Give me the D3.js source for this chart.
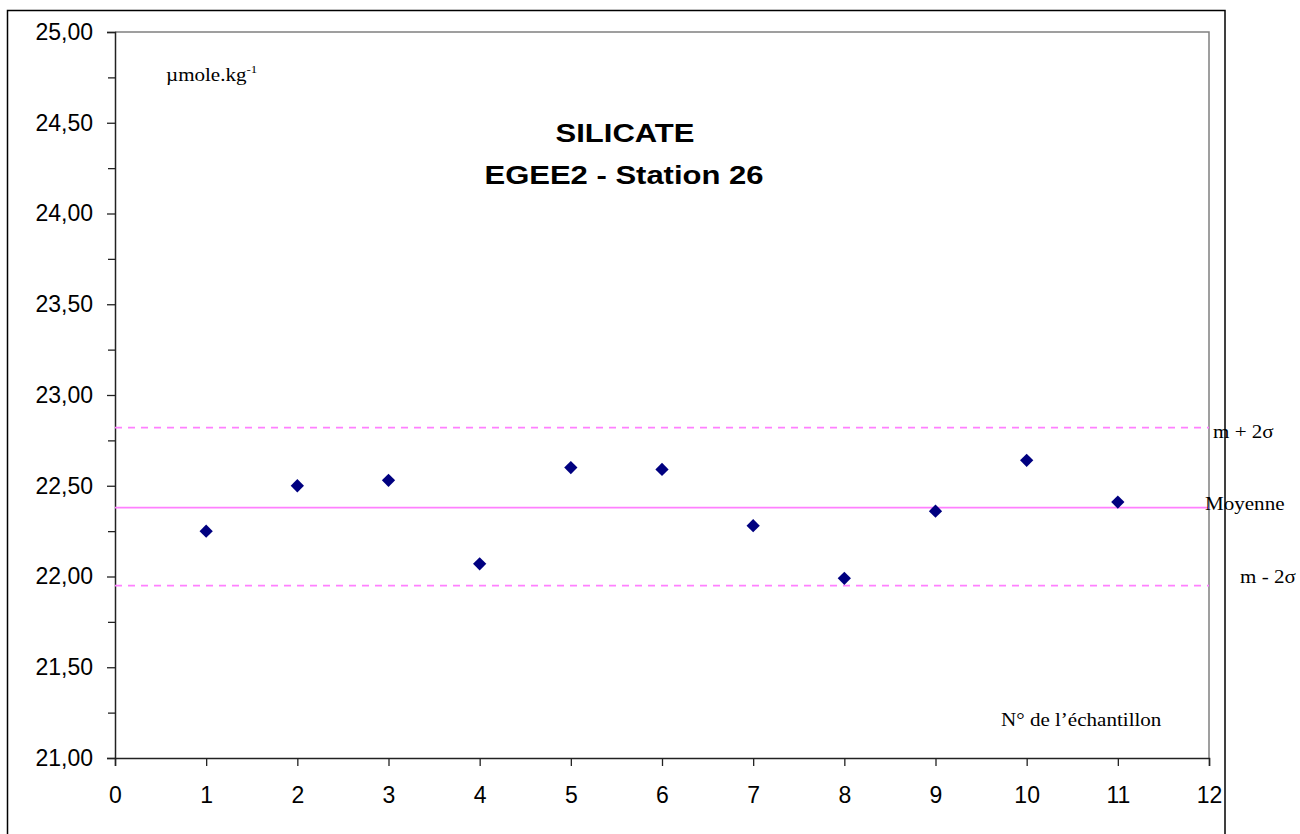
<!DOCTYPE html>
<html>
<head>
<meta charset="utf-8">
<script src="https://cdn.jsdelivr.net/npm/d3@7"></script>
<style>
  body { margin: 0; background: #fff; }
  svg text { font-family: Arial, "Liberation Sans", sans-serif; }
  .serif { font-family: "Times New Roman", "Liberation Serif", serif; }
</style>
</head>
<body>
<div id="chart"></div>
<script>
// data
var samples = [1, 2, 3, 4, 5, 6, 7, 8, 9, 10, 11];
var silicate = [22.25, 22.50, 22.53, 22.07, 22.60, 22.59, 22.28, 21.99, 22.36, 22.64, 22.41];
var moyenne = 22.38;
var upper = 22.82;   // m + 2 sigma
var lower = 21.95;   // m - 2 sigma
var yTicks = [21, 21.5, 22, 22.5, 23, 23.5, 24, 24.5, 25];
var yMinor = [21.25, 21.75, 22.25, 22.75, 23.25, 23.75, 24.25, 24.75];
var xTicks = [0, 1, 2, 3, 4, 5, 6, 7, 8, 9, 10, 11, 12];

var W = 1300, H = 834;
var plot = { left: 115, top: 32, right: 1209, bottom: 758 };
var stretch = 1.17; // text in the original is a bit wide

var svg = d3.select('#chart')
    .append('svg')
    .attr('width', W)
    .attr('height', H);

// outer chart frame
svg.append('rect')
    .attr('x', 7.5).attr('y', 10.5)
    .attr('width', 1225 - 7.5).attr('height', H + 20)
    .attr('fill', 'none')
    .attr('stroke', '#000')
    .attr('stroke-width', 1.5);

var x = d3.scaleLinear().domain([0, 12]).range([plot.left, plot.right]);
var y = d3.scaleLinear().domain([21, 25]).range([plot.bottom, plot.top]);

// plot area border (top + right in grey)
svg.append('path')
    .attr('d', `M${plot.left},${plot.top}H${plot.right}V${plot.bottom}`)
    .attr('fill', 'none')
    .attr('stroke', '#808080')
    .attr('stroke-width', 1.5);

var fmt = function (d) { return d3.format('.2f')(d).replace('.', ','); };

// y axis
svg.append('g')
    .attr('transform', `translate(${plot.left},0)`)
    .call(d3.axisLeft(y).tickValues(yTicks).tickFormat(fmt).tickSize(8).tickPadding(14));

svg.append('g')
    .attr('transform', `translate(${plot.left},0)`)
    .call(d3.axisLeft(y).tickValues(yMinor).tickFormat('').tickSize(7))
    .select('.domain').remove();

// x axis
svg.append('g')
    .attr('transform', `translate(0,${plot.bottom})`)
    .call(d3.axisBottom(x).tickValues(xTicks).tickFormat(d3.format('d')).tickSize(8).tickPadding(21));

svg.selectAll('.domain').attr('stroke', '#222').attr('stroke-width', 1.5);
svg.selectAll('.tick line').attr('stroke', '#222').attr('stroke-width', 1.3);
svg.selectAll('.tick text')
    .attr('font-size', 23)
    .attr('font-family', 'Arial, "Liberation Sans", sans-serif')
    .attr('fill', '#000');

// mean and +/- 2 sigma lines
svg.append('line')
    .attr('x1', plot.left).attr('x2', plot.right)
    .attr('y1', y(moyenne)).attr('y2', y(moyenne))
    .attr('stroke', '#ff80ff').attr('stroke-width', 1.8);

[upper, lower].forEach(function (v) {
    svg.append('line')
        .attr('x1', plot.left).attr('x2', plot.right)
        .attr('y1', y(v)).attr('y2', y(v))
        .attr('stroke', '#ff80ff').attr('stroke-width', 1.8)
        .attr('stroke-dasharray', '7,6');
});

// points
var diamond = d3.symbol().type(d3.symbolSquare).size(88);
svg.append('g').selectAll('path')
    .data(samples)
    .enter()
    .append('path')
    .attr('d', diamond)
    .attr('transform', function (d, i) {
        return `translate(${x(d)},${y(silicate[i])}) rotate(45)`;
    })
    .attr('fill', '#000080');

// helper for the wide text
function label(px, py, txt, size, cls) {
    return svg.append('text')
        .attr('class', cls || null)
        .attr('transform', `translate(${px},${py}) scale(${stretch},1)`)
        .attr('font-size', size)
        .text(txt);
}

// titles
label(625, 142, 'SILICATE', 26.5)
    .attr('text-anchor', 'middle').attr('font-weight', 'bold');
label(624, 184, 'EGEE2 - Station 26', 26.5)
    .attr('text-anchor', 'middle').attr('font-weight', 'bold');

// unit label
var unit = label(166, 81, '', 18, 'serif');
unit.append('tspan').text('\u00b5mole.kg');
unit.append('tspan').attr('font-size', 11).attr('dy', -8).text('-1');

label(1001, 726, 'N\u00b0 de l\u2019\u00e9chantillon', 18, 'serif');

// line labels
label(1213, 438, 'm + 2\u03c3', 18, 'serif');
label(1205, 510, 'Moyenne', 18, 'serif');
label(1240, 583, 'm - 2\u03c3', 18, 'serif');
</script>
</body>
</html>
